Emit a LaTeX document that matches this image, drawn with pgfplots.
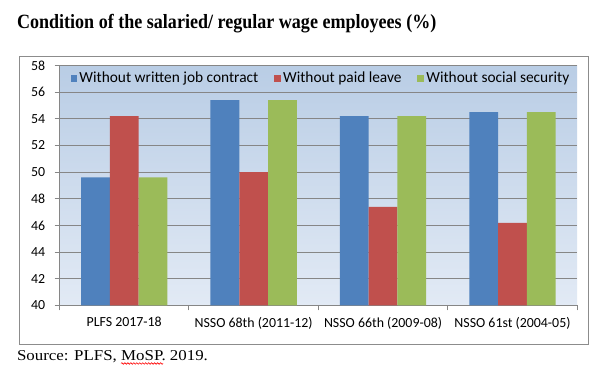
\documentclass[border=0pt]{standalone}
\usepackage{pgfplots}
\pgfplotsset{compat=1.18}
\usetikzlibrary{decorations.pathmorphing}
\usepackage{fontspec}
\setmainfont{Liberation Serif}
\newfontfamily\calibri{Carlito}
\definecolor{cblue}{HTML}{4F81BD}
\definecolor{cred}{HTML}{C0504D}
\definecolor{cgreen}{HTML}{9BBB59}
\definecolor{gridgray}{HTML}{868686}
\definecolor{framegray}{HTML}{8C8C8C}
\definecolor{bgtop}{HTML}{B9CDE5}
\definecolor{bgbot}{HTML}{E2EAF5}
\newlength\srcw
\newlength\mosw
\newcommand\srcfont{\fontsize{15.2bp}{18bp}\selectfont}
\begin{document}
\settowidth\srcw{\scalebox{1.12}[1]{\srcfont Source: PLFS, }}
\settowidth\mosw{\scalebox{1.12}[1]{\srcfont MoSP}}
\begin{tikzpicture}[x=1bp,y=1bp]
\fill[white] (0,0) rectangle (600,378);
\draw[framegray, line width=1bp] (14.5,31) rectangle (588,321);
\node[anchor=base west, inner sep=0] at (12,349.5) {\scalebox{1}[1.12]{\fontsize{18.2bp}{21bp}\selectfont\bfseries Condition of the salaried/ regular wage employees (\%)}};
\node[anchor=base west, inner sep=0] at (12,15) {\scalebox{1.12}[1]{\srcfont Source: PLFS, MoSP. 2019.}};
\draw[red, line width=0.6bp, decorate, decoration={snake, amplitude=0.8bp, segment length=3bp}] (12bp+\srcw,11.5) -- (12bp+\srcw+\mosw,11.5);
\begin{axis}[at={(55bp,70bp)}, anchor=south west, scale only axis, width=522bp, height=242bp,
  ybar=0pt, bar width=29bp,
  xmin=-0.5, xmax=3.5, ymin=40, ymax=58, ytick={40,42,...,58},
  xtick={-0.5,0.5,1.5,2.5,3.5}, xticklabels={},
  extra x ticks={0,1,2,3},
  extra x tick labels={PLFS 2017-18, NSSO 68th (2011-12), NSSO 66th (2009-08), NSSO 61st (2004-05)},
  extra x tick style={major tick length=0pt, grid=none, xticklabel style={yshift=-8bp}},
  yticklabel style={xshift=-6bp},
  axis x line*=bottom, axis y line*=left, axis line style={gridgray, line width=1bp, -},
  ymajorgrids, major grid style={gridgray, line width=1bp},
  tick align=outside, major tick length=5bp, tick style={gridgray, line width=1bp},
  axis background/.style={top color=bgtop, bottom color=bgbot},
  ticklabel style={font=\calibri\fontsize{14bp}{16bp}\selectfont},
  /pgf/number format/assume math mode=true,
  legend columns=3,
  legend style={draw=none, fill=none, font=\calibri\fontsize{15.5bp}{17bp}\selectfont,
    at={(0.505,0.99)}, anchor=north, /tikz/every even column/.append style={column sep=14bp}},
  legend image code/.code={\fill[#1] (0bp,-3.5bp) rectangle (7bp,3.5bp);},
]
\addplot[fill=cblue, draw=none] coordinates {(0,49.6) (1,55.4) (2,54.2) (3,54.5)};
\addplot[fill=cred, draw=none] coordinates {(0,54.2) (1,50.0) (2,47.4) (3,46.2)};
\addplot[fill=cgreen, draw=none] coordinates {(0,49.6) (1,55.4) (2,54.2) (3,54.5)};
\legend{Without written job contract, Without paid leave, Without social security}
\end{axis}
\pgfresetboundingbox
\path[use as bounding box] (0,0) rectangle (600,378);
\end{tikzpicture}
\end{document}
